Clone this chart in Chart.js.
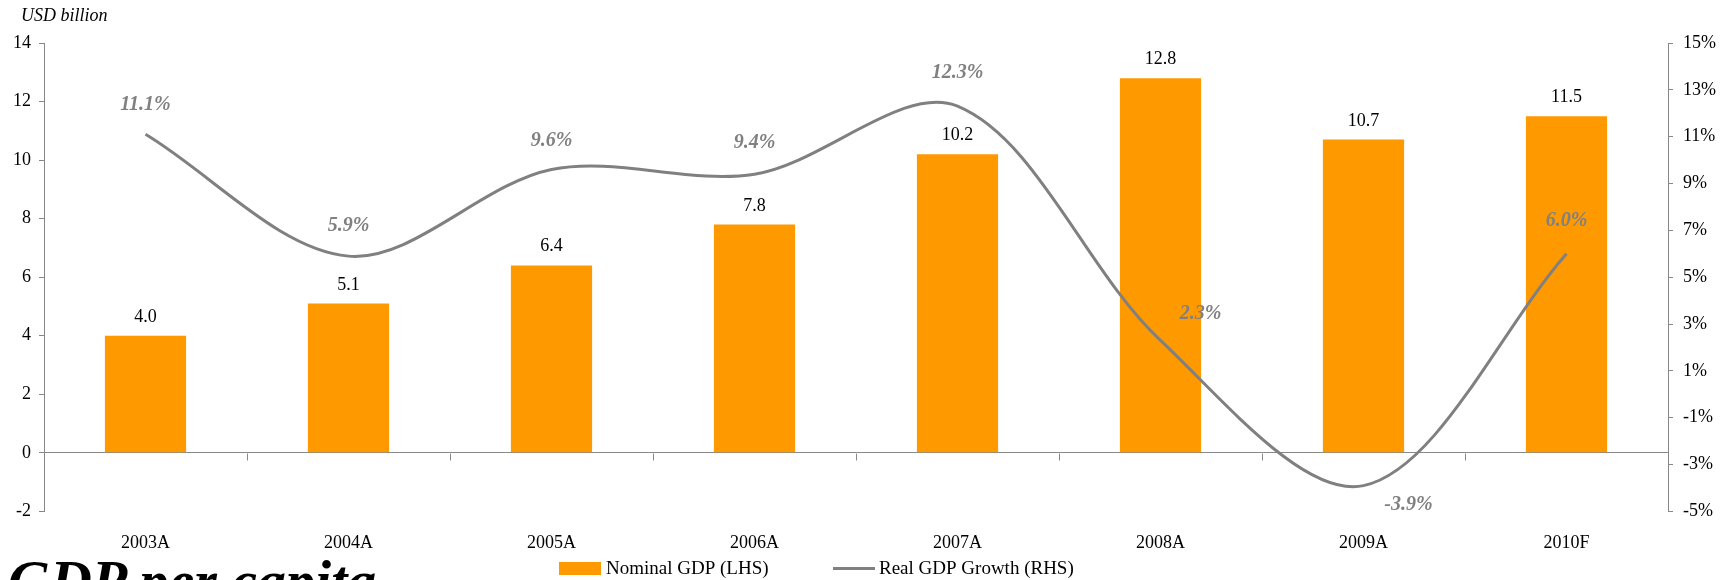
<!DOCTYPE html>
<html>
<head>
<meta charset="utf-8">
<script src="https://cdn.jsdelivr.net/npm/chart.js@4/dist/chart.umd.min.js"></script>
<style>
	html, body { margin: 0; padding: 0; background: #fff; overflow: hidden; }
	#wrap { position: relative; width: 1728px; height: 580px; }
	#heading {
		position: absolute; left: 8px; top: 552px;
		font: italic bold 58px 'Liberation Serif', serif; line-height: 58px;
		white-space: nowrap; color: #000;
	}
</style>
</head>
<body>
<div id="wrap">
	<canvas id="gdp-chart" width="1728" height="580"></canvas>
	<div id="heading">GDP per capita</div>
</div>
<script>
( function () {
	'use strict';

	// ── Data ──────────────────────────────────────────────────────────────
	var years      = [ '2003A', '2004A', '2005A', '2006A', '2007A', '2008A', '2009A', '2010F' ];
	var nominalGdp = [ 4.0, 5.1, 6.4, 7.8, 10.2, 12.8, 10.7, 11.5 ];   // USD billion (LHS)
	var realGrowth = [ 11.1, 5.9, 9.6, 9.4, 12.3, 2.3, -3.9, 6.0 ];    // % (RHS)
	var lhsTicks   = [ -2, 0, 2, 4, 6, 8, 10, 12, 14 ];
	var rhsTicks   = [ -5, -3, -1, 1, 3, 5, 7, 9, 11, 13, 15 ];

	// label nudges for the growth line (dx, dy in px)
	var growthLabelOffset = [ [0,-30], [0,-30], [0,-29], [0,-31], [0,-33], [40,-27], [45,19], [0,-33] ];

	var SERIF  = "'Liberation Serif', 'Times New Roman', serif";
	var ORANGE = '#ff9900';
	var GREY   = '#808080';
	var AXIS   = '#888888';

	Chart.defaults.font.family = SERIF;
	Chart.defaults.font.size   = 18;
	Chart.defaults.color       = '#000';

	// unit caption, value labels above bars and next to line points
	var valueLabels = {
		id : 'valueLabels',
		afterDatasetsDraw : function ( chart ) {
			var ctx = chart.ctx;
			ctx.save();

			ctx.font = 'italic 18px ' + SERIF;
			ctx.fillStyle = '#000';
			ctx.textAlign = 'left';
			ctx.textBaseline = 'middle';
			ctx.fillText( 'USD billion', 21, 16 );

			ctx.textAlign = 'center';
			ctx.font = '18px ' + SERIF;
			ctx.textBaseline = 'alphabetic';
			chart.getDatasetMeta( 0 ).data.forEach( function ( bar, i ) {
				ctx.fillText( nominalGdp[ i ].toFixed( 1 ), bar.x, bar.y - 14 );
			} );

			ctx.font = 'italic bold 20px ' + SERIF;
			ctx.fillStyle = GREY;
			ctx.textBaseline = 'middle';
			chart.getDatasetMeta( 1 ).data.forEach( function ( pt, i ) {
				var o = growthLabelOffset[ i ];
				ctx.fillText( realGrowth[ i ].toFixed( 1 ) + '%', pt.x + o[0], pt.y + o[1] );
			} );
			ctx.restore();
		}
	};

	// small tick marks hanging off the zero line at category boundaries
	var zeroTicks = {
		id : 'zeroTicks',
		beforeDatasetsDraw : function ( chart ) {
			var x = chart.scales.x, y = chart.scales.y, ctx = chart.ctx;
			var y0 = Math.round( y.getPixelForValue( 0 ) ) + 0.5;
			ctx.save();
			ctx.strokeStyle = AXIS;
			ctx.lineWidth = 1;
			ctx.beginPath();
			for ( var i = 0; i <= years.length; i++ ) {
				var px = Math.round( x.left + ( x.right - x.left ) * i / years.length ) + 0.5;
				ctx.moveTo( px, y0 );
				ctx.lineTo( px, y0 + 7 );
			}
			ctx.stroke();
			ctx.restore();
		}
	};

	// legend below the x labels
	var bottomLegend = {
		id : 'bottomLegend',
		afterDraw : function ( chart ) {
			var ctx = chart.ctx, ds = chart.data.datasets;
			ctx.save();
			ctx.font = '19px ' + SERIF;
			ctx.textBaseline = 'middle';
			ctx.textAlign = 'left';

			ctx.fillStyle = ds[0].backgroundColor;
			ctx.fillRect( 559, 562, 42, 13 );
			ctx.fillStyle = '#000';
			ctx.fillText( ds[0].label, 606, 569 );

			ctx.strokeStyle = ds[1].borderColor;
			ctx.lineWidth = 3;
			ctx.beginPath();
			ctx.moveTo( 833, 568.5 );
			ctx.lineTo( 875, 568.5 );
			ctx.stroke();
			ctx.fillText( ds[1].label, 879, 569 );
			ctx.restore();
		}
	};

	new Chart( document.getElementById( 'gdp-chart' ), {
		type : 'bar',
		data : {
			labels   : years,
			datasets : [
				{
					label           : 'Nominal GDP (LHS)',
					data            : nominalGdp,
					backgroundColor : ORANGE,
					yAxisID         : 'y',
					barPercentage   : 0.4,
					categoryPercentage : 1.0,
					order           : 1,
				},
				{
					type            : 'line',
					label           : 'Real GDP Growth (RHS)',
					data            : realGrowth,
					borderColor     : GREY,
					backgroundColor : GREY,
					borderWidth     : 3,
					pointRadius     : 0,
					tension         : 0.33,
					yAxisID         : 'y1',
					order           : 0,
				},
			],
		},
		options : {
			responsive : false,
			animation  : false,
			layout     : { padding : { left : 0, right : 0, top : 43, bottom : 5 } },
			plugins    : {
				legend  : { display : false },
				tooltip : { enabled : false },
			},
			scales : {
				x : {
					grid   : { display : false, drawTicks : false },
					border : { display : false },
					ticks  : { padding : 21, color : '#000' },
				},
				y : {
					position : 'left',
					min : lhsTicks[0],
					max : lhsTicks[ lhsTicks.length - 1 ],
					ticks : { stepSize : 2, padding : 8, color : '#000' },
					grid  : {
						color : function ( c ) { return c.tick && c.tick.value === 0 ? AXIS : 'rgba(0,0,0,0)'; },
						tickColor  : AXIS,
						tickLength : 5,
					},
					border : { color : AXIS },
					afterFit : function ( s ) { s.width = 44; },
				},
				y1 : {
					position : 'right',
					min : rhsTicks[0],
					max : rhsTicks[ rhsTicks.length - 1 ],
					ticks : {
						stepSize : 2,
						padding  : 10,
						color    : '#000',
						callback : function ( v ) { return v + '%'; },
					},
					grid   : { drawOnChartArea : false, color : AXIS, tickLength : 5 },
					border : { color : AXIS },
					afterFit : function ( s ) { s.width = 60; },
				},
			},
		},
		plugins : [ zeroTicks, valueLabels, bottomLegend ],
	} );
} )();
</script>
</body>
</html>
